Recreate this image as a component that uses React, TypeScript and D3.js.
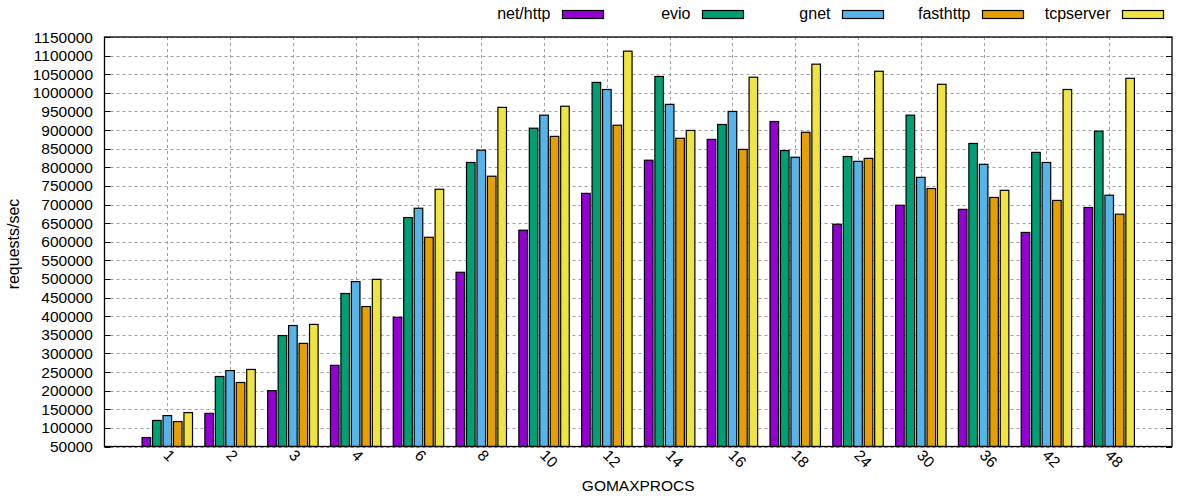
import * as d3 from "d3";
import { useEffect, useRef } from "react";

const categories = ["1", "2", "3", "4", "6", "8", "10", "12", "14", "16", "18", "24", "30", "36", "42", "48"];

const netHttp = [74000, 139000, 200000, 268000, 397000, 518000, 631000, 730000, 819000, 875000, 923000, 647000, 698000, 687000, 625000, 692000];
const evio = [120000, 238000, 348000, 461000, 665000, 813000, 905000, 1028000, 1044000, 915000, 845000, 829000, 940000, 864000, 840000, 897000];
const gnet = [133000, 254000, 375000, 493000, 690000, 846000, 940000, 1009000, 969000, 950000, 827000, 816000, 773000, 808000, 813000, 725000];
const fasthttp = [117000, 222000, 327000, 426000, 612000, 776000, 883000, 913000, 878000, 848000, 894000, 824000, 743000, 719000, 711000, 674000];
const tcpserver = [141000, 257000, 378000, 499000, 741000, 961000, 964000, 1112000, 899000, 1042000, 1077000, 1058000, 1023000, 738000, 1009000, 1039000];

const seriesNames = ["net/http", "evio", "gnet", "fasthttp", "tcpserver"];
const seriesColors = ["#9400d3", "#009e73", "#56b4e9", "#e69f00", "#f0e442"];

const yTicks = d3.range(50000, 1150001, 50000);

const App = () => {
  const ref = useRef<SVGSVGElement>(null);

  useEffect(() => {
    const width = 1200;
    const height = 500;
    const left = 104.5;
    const right = 1172;
    const top = 37;
    const bottom = 446.5;
    const font = "Liberation Sans, Arial, sans-serif";
    const fontSize = "15.5px";

    const series = [netHttp, evio, gnet, fasthttp, tcpserver];

    const svg = d3
      .select(ref.current)
      .attr("width", width)
      .attr("height", height)
      .html("");

    svg.append("rect").attr("width", width).attr("height", height).attr("fill", "#fff");

    const x = d3.scaleLinear().domain([-1, categories.length]).range([left, right]);
    const y = d3.scaleLinear().domain([50000, 1150000]).range([bottom, top]);

    const slot = (x(1) - x(0)) / (series.length + 1);
    const barW = slot * 0.82;

    // grid
    const grid = svg.append("g").attr("stroke", "#a0a0a0").attr("stroke-dasharray", "3,3").attr("stroke-width", 1);
    grid
      .selectAll("line.h")
      .data(yTicks)
      .enter()
      .append("line")
      .attr("x1", left)
      .attr("x2", right)
      .attr("y1", (d) => Math.round(y(d)) + 0.5)
      .attr("y2", (d) => Math.round(y(d)) + 0.5);
    grid
      .selectAll("line.v")
      .data(categories)
      .enter()
      .append("line")
      .attr("x1", (_, i) => Math.round(x(i)) + 0.5)
      .attr("x2", (_, i) => Math.round(x(i)) + 0.5)
      .attr("y1", top)
      .attr("y2", bottom);

    // bars
    series.forEach((vals, s) => {
      svg
        .append("g")
        .selectAll("rect")
        .data(vals)
        .enter()
        .append("rect")
        .attr("x", (_, i) => x(i) + (s - 2) * slot - barW / 2)
        .attr("y", (d) => y(d))
        .attr("width", barW)
        .attr("height", (d) => y(50000) - y(d))
        .attr("fill", seriesColors[s])
        .attr("stroke", "#000")
        .attr("stroke-width", 1.2);
    });

    // border
    svg
      .append("rect")
      .attr("x", left)
      .attr("y", top)
      .attr("width", right - left)
      .attr("height", bottom - top)
      .attr("fill", "none")
      .attr("stroke", "#000")
      .attr("stroke-width", 1.3);

    // y ticks (both sides, inward)
    const ticks = svg.append("g").attr("stroke", "#000").attr("stroke-width", 1);
    yTicks.forEach((t) => {
      const yy = Math.round(y(t)) + 0.5;
      ticks.append("line").attr("x1", left).attr("x2", left + 6).attr("y1", yy).attr("y2", yy);
      ticks.append("line").attr("x1", right - 6).attr("x2", right).attr("y1", yy).attr("y2", yy);
    });

    svg
      .append("g")
      .selectAll("text")
      .data(yTicks)
      .enter()
      .append("text")
      .attr("x", 93)
      .attr("y", (d) => y(d) + 5.5)
      .attr("text-anchor", "end")
      .style("font-family", font)
      .style("font-size", fontSize)
      .style("fill", "#000")
      .text((d) => d);

    // x tick labels, rotated
    svg
      .append("g")
      .selectAll("text")
      .data(categories)
      .enter()
      .append("text")
      .attr("transform", (_, i) => `translate(${x(i) - 1}, ${bottom + 6}) rotate(45)`)
      .attr("text-anchor", "start")
      .attr("dy", "0.35em")
      .style("font-family", font)
      .style("font-size", fontSize)
      .style("fill", "#000")
      .text((d) => d);

    // axis titles
    svg
      .append("text")
      .attr("x", (left + right) / 2)
      .attr("y", 490.5)
      .attr("text-anchor", "middle")
      .style("font-family", font)
      .style("font-size", fontSize)
      .text("GOMAXPROCS");

    svg
      .append("text")
      .attr("transform", `translate(19, 244) rotate(-90)`)
      .attr("text-anchor", "middle")
      .style("font-family", font)
      .style("font-size", "16px")
      .text("requests/sec");

    // legend
    const legend = svg.append("g");
    seriesNames.forEach((name, s) => {
      const sx = 562.5 + s * 140;
      legend
        .append("text")
        .attr("x", sx - 12)
        .attr("y", 18.5)
        .attr("text-anchor", "end")
        .style("font-family", font)
        .style("font-size", "16px")
        .text(name);
      legend
        .append("rect")
        .attr("x", sx)
        .attr("y", 10.5)
        .attr("width", 41)
        .attr("height", 8)
        .attr("fill", seriesColors[s])
        .attr("stroke", "#000")
        .attr("stroke-width", 1.2);
    });
  }, []);

  return <svg ref={ref} style={{ position: "absolute", left: 0, top: 0, display: "block" }}></svg>;
};

export default App;
